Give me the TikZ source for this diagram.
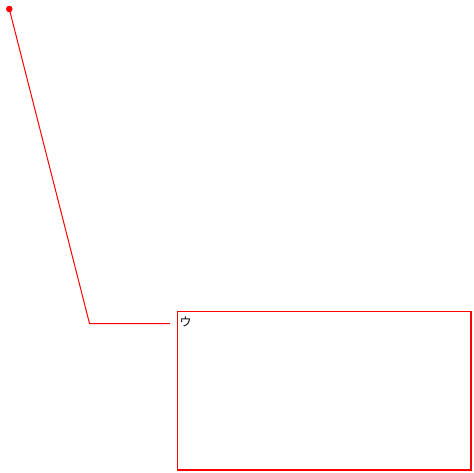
\documentclass[tikz,border=0pt]{standalone}
\usepackage{fontspec}
\newfontfamily\cjk{Noto Sans CJK JP}
\begin{document}
\begin{tikzpicture}[x=1pt,y=-1pt,
  redline/.style={draw=red,line width=1pt},
  lbl/.style={font=\cjk\fontsize{12}{14}\selectfont,inner sep=0pt,anchor=north west}]
\useasboundingbox (0,0) rectangle (474,473);
\fill[red] (9.3,9) circle (3.3);
\coordinate (dot) at (9.3,9);
\coordinate (bend) at (89.5,323.5);
\coordinate (tip) at (170,323.5);
\draw[redline] (dot) -- (bend) -- (tip);
\coordinate (bnw) at (177.2,311.5);
\coordinate (bse) at (470,470);
\draw[redline] (bnw) rectangle (bse);
\draw[red,line width=2pt] (bnw |- bse) ++(0,-0.5) -- ++(293.3,0) -- ++(0,-158.5);
\node[lbl] (t) at (179.5,316.5) {ウ};
\end{tikzpicture}
\end{document}
